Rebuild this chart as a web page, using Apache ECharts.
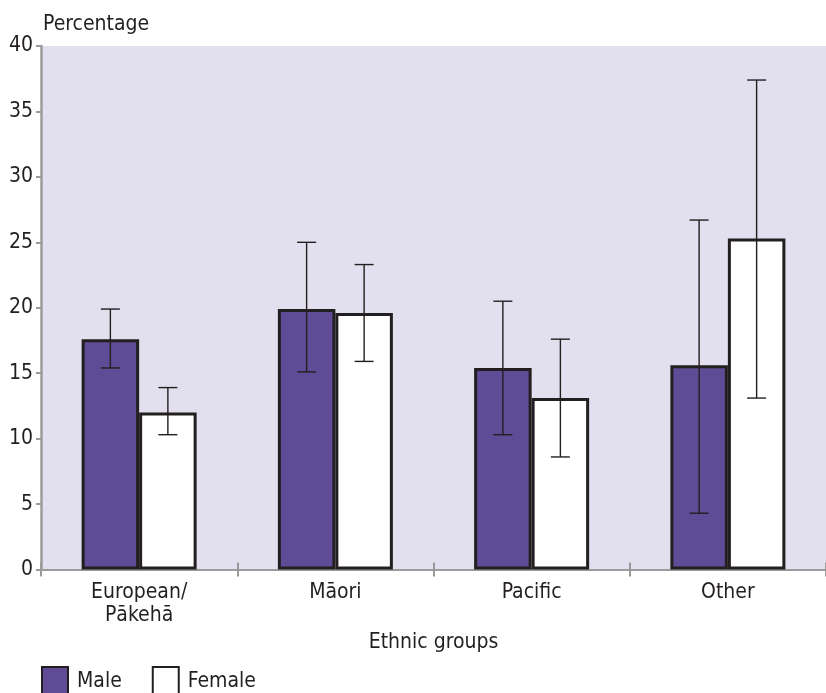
<!DOCTYPE html>
<html>
<head>
<meta charset="utf-8">
<script src="https://cdn.jsdelivr.net/npm/echarts@6/dist/echarts.min.js"></script>
<style>
  html, body { margin: 0; padding: 0; background: #ffffff; }
  #chart { width: 826px; height: 693px; }
</style>
</head>
<body>
<div id="chart"></div>
<script>
// Ethnic groups along the x axis
const categories = ['European/\nPākehā', 'Māori', 'Pacific', 'Other'];

// Percentages by sex, with 95% confidence limits
const maleValues  = [17.6, 19.9, 15.4, 15.6];
const maleLow     = [15.4, 15.1, 10.3, 4.3];
const maleHigh    = [19.9, 25.0, 20.5, 26.7];

const femaleValues = [12.0, 19.6, 13.1, 25.3];
const femaleLow    = [10.3, 15.9, 8.6, 13.1];
const femaleHigh   = [13.9, 23.3, 17.6, 37.4];

const yTicks = { min: 0, max: 40, interval: 5 };

const FONT = '"DejaVu Sans Condensed", "DejaVu Sans", sans-serif';
const INK = '#231f20';
const AXIS = '#9b9b9b';
const PURPLE = '#5f4b96';
const GAP = 0.414;          // barCategoryGap as a fraction

// Error-bar renderer: side = -1 for the left bar in a group, +1 for the right
function errorBars(side) {
  return function (params, api) {
    const i = api.value(0);
    const band = api.size([1, 0])[0];
    const barW = band * (1 - GAP) / 2;
    const center = api.coord([i, 0])[0] + side * barW / 2;
    const yHi = api.coord([i, api.value(2)])[1];
    const yLo = api.coord([i, api.value(1)])[1];
    const cap = 9.5;
    const style = { stroke: INK, lineWidth: 1.4 };
    return {
      type: 'group',
      children: [
        { type: 'line', shape: { x1: center, y1: yHi, x2: center, y2: yLo }, style },
        { type: 'line', shape: { x1: center - cap, y1: yHi, x2: center + cap, y2: yHi }, style },
        { type: 'line', shape: { x1: center - cap, y1: yLo, x2: center + cap, y2: yLo }, style }
      ]
    };
  };
}

const chart = echarts.init(document.getElementById('chart'), null, { renderer: 'canvas' });

chart.setOption({
  animation: false,
  backgroundColor: '#ffffff',
  title: {
    text: 'Percentage',
    left: 38,
    top: 9,
    textStyle: { fontFamily: FONT, fontSize: 21, fontWeight: 'normal', color: INK }
  },
  legend: {
    left: 36,
    top: 661,
    icon: 'rect',
    itemWidth: 26,
    itemHeight: 30,
    itemGap: 30,
    data: ['Male', 'Female'],
    textStyle: { fontFamily: FONT, fontSize: 21, color: INK, padding: [4, 0, 0, 4] }
  },
  grid: {
    left: 41,
    top: 46,
    width: 791,
    height: 523.5,
    show: true,
    backgroundColor: '#e2dfee',
    borderWidth: 0
  },
  xAxis: [
    {
      type: 'category',
      data: categories,
      boundaryGap: true,
      axisLine: { lineStyle: { color: AXIS, width: 2 } },
      axisTick: { show: true, length: 7, lineStyle: { color: AXIS, width: 2 } },
      axisLabel: {
        fontFamily: FONT, fontSize: 21, color: INK, margin: 12, lineHeight: 23
      },
      name: 'Ethnic groups',
      nameLocation: 'middle',
      nameGap: 54,
      nameTextStyle: { fontFamily: FONT, fontSize: 21, color: INK }
    },
    {
      // inner half of the category separators
      type: 'category',
      data: categories,
      position: 'bottom',
      axisLine: { show: false },
      axisTick: { show: true, inside: true, length: 7, lineStyle: { color: AXIS, width: 2 } },
      axisLabel: { show: false }
    }
  ],
  yAxis: {
    type: 'value',
    min: yTicks.min,
    max: yTicks.max,
    interval: yTicks.interval,
    splitLine: { show: false },
    axisLine: { show: true, lineStyle: { color: AXIS, width: 2.5 } },
    axisTick: { show: true, length: 5, lineStyle: { color: AXIS, width: 2 } },
    axisLabel: { fontFamily: FONT, fontSize: 21, color: INK, margin: 8 }
  },
  series: [
    {
      name: 'Male',
      type: 'bar',
      data: maleValues,
      barGap: '0%',
      barCategoryGap: (GAP * 100) + '%',
      itemStyle: { color: PURPLE, borderColor: INK, borderWidth: 3 },
      z: 2
    },
    {
      name: 'Female',
      type: 'bar',
      data: femaleValues,
      barGap: '0%',
      barCategoryGap: (GAP * 100) + '%',
      itemStyle: { color: '#ffffff', borderColor: INK, borderWidth: 3 },
      z: 2
    },
    {
      type: 'custom',
      name: 'Male CI',
      data: maleValues.map((v, i) => [i, maleLow[i], maleHigh[i]]),
      renderItem: errorBars(-1),
      encode: { x: 0, y: [1, 2] },
      z: 5
    },
    {
      type: 'custom',
      name: 'Female CI',
      data: femaleValues.map((v, i) => [i, femaleLow[i], femaleHigh[i]]),
      renderItem: errorBars(1),
      encode: { x: 0, y: [1, 2] },
      z: 5
    }
  ]
});
</script>
</body>
</html>
